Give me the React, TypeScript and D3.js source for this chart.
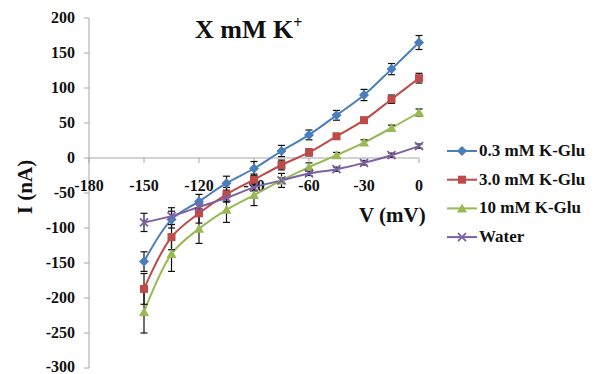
import * as d3 from 'd3';

const voltages = [-150, -135, -120, -105, -90, -75, -60, -45, -30, -15, 0];

const glu03 = [-148, -88, -62, -36, -15, 10, 33, 61, 90, 127, 165];
const glu03Err = [14, 12, 10, 10, 10, 8, 7, 7, 8, 8, 10];

const glu30 = [-187, -113, -79, -52, -31, -10, 8, 31, 54, 84, 114];
const glu30Err = [22, 18, 14, 10, 8, 7, 5, 4, 4, 6, 7];

const glu10 = [-220, -137, -101, -74, -53, -32, -13, 4, 22, 43, 65];
const glu10Err = [30, 25, 21, 18, 15, 10, 6, 4, 4, 4, 5];

const water = [-92, -83, -70, -57, -42, -32, -22, -16, -7, 4, 17];
const waterErr = [13, 12, 8, 6, 5, 4, 3, 3, 3, 3, 3];

const xTicks = [-180, -150, -120, -90, -60, -30, 0];
const yTicks = [200, 150, 100, 50, 0, -50, -100, -150, -200, -250, -300];

const seriesNames = ['0.3 mM K-Glu', '3.0 mM K-Glu', '10 mM K-Glu', 'Water'];

type Series = { name: string; values: number[]; errors: number[]; color: string; marker: string };

const series: Series[] = [
  { name: seriesNames[0], values: glu03, errors: glu03Err, color: '#4a7ebb', marker: 'diamond' },
  { name: seriesNames[1], values: glu30, errors: glu30Err, color: '#be4b48', marker: 'square' },
  { name: seriesNames[2], values: glu10, errors: glu10Err, color: '#98b954', marker: 'triangle' },
  { name: seriesNames[3], values: water, errors: waterErr, color: '#7d60a0', marker: 'x' },
];

const FONT = '"Liberation Serif", "Times New Roman", serif';

function Marker({ kind, x, y, color }: { kind: string; x: number; y: number; color: string }) {
  if (kind === 'diamond') {
    return <path d={`M${x},${y - 5}L${x + 5},${y}L${x},${y + 5}L${x - 5},${y}Z`} fill={color} />;
  }
  if (kind === 'square') {
    return <rect x={x - 4} y={y - 4} width={8} height={8} fill={color} />;
  }
  if (kind === 'triangle') {
    return <path d={`M${x},${y - 5}L${x + 5},${y + 4}L${x - 5},${y + 4}Z`} fill={color} />;
  }
  return (
    <path d={`M${x - 4},${y - 4}L${x + 4},${y + 4}M${x - 4},${y + 4}L${x + 4},${y - 4}`} stroke={color} strokeWidth={1.8} />
  );
}

export default function App() {
  const width = 595;
  const height = 374;

  const x = d3.scaleLinear().domain([-180, 0]).range([89, 419]);
  const y = d3.scaleLinear().domain([-300, 200]).range([368, 18]);

  const line = d3
    .line<number>()
    .x((_, i) => x(voltages[i]))
    .y((v) => y(v))
    .curve(d3.curveCatmullRom.alpha(0.5));

  const axisColor = '#a6a6a6';

  return (
    <svg
      width={width}
      height={height}
      viewBox={`0 0 ${width} ${height}`}
      style={{ position: 'absolute', left: 0, top: 0, background: '#fff' }}
      fontFamily={FONT}
      fontWeight="bold"
    >
      {/* y axis */}
      <line x1={x(-180)} x2={x(-180)} y1={y(200)} y2={y(-300)} stroke={axisColor} />
      {yTicks.map((t) => (
        <g key={t}>
          <line x1={x(-180) - 5} x2={x(-180)} y1={y(t)} y2={y(t)} stroke={axisColor} />
          <text x={75} y={Math.min(y(t) + 5, 372)} textAnchor="end" fontSize={16} fill="#111">
            {t}
          </text>
        </g>
      ))}

      {/* x axis at zero */}
      <line x1={x(-180)} x2={x(0)} y1={y(0)} y2={y(0)} stroke={axisColor} />
      {xTicks.map((t) => (
        <g key={t}>
          <line x1={x(t)} x2={x(t)} y1={y(0)} y2={y(0) + 5} stroke={axisColor} />
          <text x={x(t)} y={y(0) + 33} textAnchor="middle" fontSize={16} fill="#111">
            {t}
          </text>
        </g>
      ))}

      {/* lines */}
      {series.map((s) => (
        <path key={s.name} d={line(s.values) ?? ''} fill="none" stroke={s.color} strokeWidth={2} />
      ))}

      {/* error bars */}
      {series.map((s) =>
        s.values.map((v, i) => {
          const cx = x(voltages[i]);
          const top = y(v + s.errors[i]);
          const bot = y(v - s.errors[i]);
          return (
            <g key={`${s.name}-e-${i}`} stroke="#111" strokeWidth={1.2}>
              <line x1={cx} x2={cx} y1={top} y2={bot} />
              <line x1={cx - 3.5} x2={cx + 3.5} y1={top} y2={top} />
              <line x1={cx - 3.5} x2={cx + 3.5} y1={bot} y2={bot} />
            </g>
          );
        })
      )}

      {/* markers */}
      {series.map((s) =>
        s.values.map((v, i) => (
          <Marker key={`${s.name}-m-${i}`} kind={s.marker} x={x(voltages[i])} y={y(v)} color={s.color} />
        ))
      )}

      {/* title */}
      <text x={195} y={38} fontSize={26} fill="#111">
        X mM K<tspan dy={-10} fontSize={16}>+</tspan>
      </text>

      {/* axis titles */}
      <text x={359} y={222} fontSize={21} fill="#111">
        V (mV)
      </text>
      <text transform="translate(32,187) rotate(-90)" textAnchor="middle" fontSize={21} fill="#111">
        I (nA)
      </text>

      {/* legend */}
      {series.map((s, i) => {
        const ly = 151 + i * 28.7;
        return (
          <g key={`leg-${s.name}`}>
            <line x1={447} x2={477} y1={ly} y2={ly} stroke={s.color} strokeWidth={2} />
            <Marker kind={s.marker} x={462} y={ly} color={s.color} />
            <text x={479} y={ly + 5} fontSize={17} fill="#111">
              {s.name}
            </text>
          </g>
        );
      })}
    </svg>
  );
}
